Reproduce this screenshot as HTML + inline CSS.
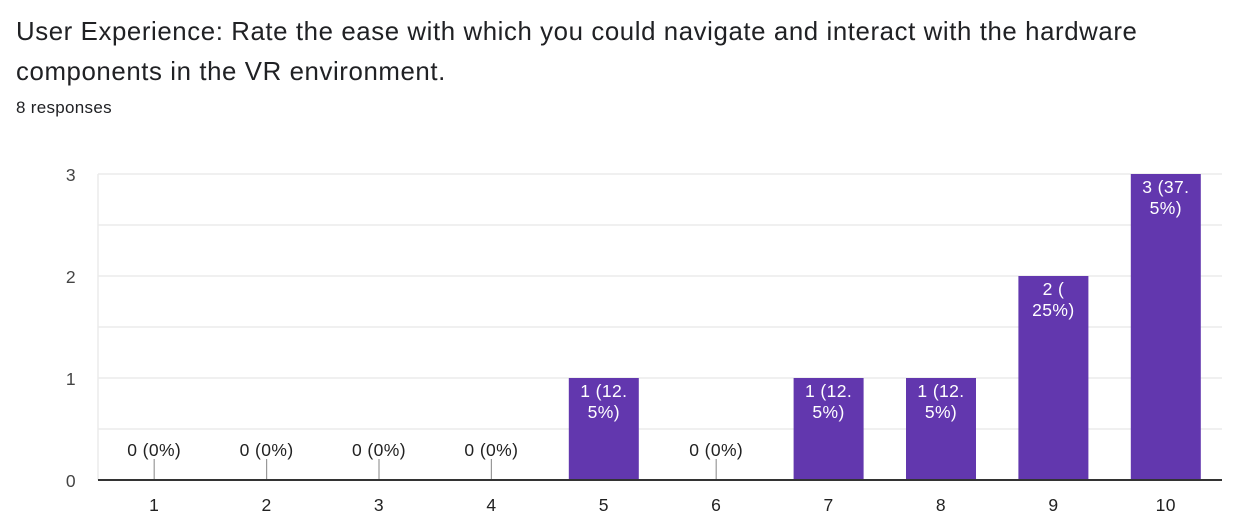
<!DOCTYPE html>
<html><head><meta charset="utf-8"><style>
body{margin:0;background:#fff;width:1250px;height:532px;overflow:hidden;font-family:"Liberation Sans",Arial,sans-serif}
#title{position:absolute;left:16px;top:12px;font-size:25.8px;letter-spacing:0.6px;line-height:40px;color:#202124;width:1230px}
#resp{position:absolute;left:16px;top:98px;font-size:17px;letter-spacing:0.3px;color:#202124}
svg{position:absolute;left:0;top:0;letter-spacing:0.4px}
</style></head><body>
<div id="title">User Experience: Rate the ease with which you could navigate and interact with the hardware<br>components in the VR environment.</div>
<div id="resp">8 responses</div>
<svg id="chart" width="1250" height="532"></svg>
<script>
const categories=["1","2","3","4","5","6","7","8","9","10"];
const counts=[0,0,0,0,1,0,1,1,2,3];
const labelsTop=["0 (0%)","0 (0%)","0 (0%)","0 (0%)","1 (12.","0 (0%)","1 (12.","1 (12.","2 (","3 (37."];
const labelsBottom=["","","","","5%)","","5%)","5%)","25%)","5%)"];
const yTicks=[0,1,2,3];
const L=98,R=1222,T=174,B=480,yMax=3;
const svg=document.getElementById('chart');const NS="http://www.w3.org/2000/svg";
function y(v){return B-(v/yMax)*(B-T);}
const bw=(R-L)/categories.length;
function x(i){return L+bw*(i+0.5);}
function el(t,a,txt){const e=document.createElementNS(NS,t);for(const k in a)e.setAttribute(k,a[k]);if(txt!==undefined)e.textContent=txt;svg.appendChild(e);return e;}
for(let v=0.5;v<=yMax;v+=0.5){const g=el('line',{x1:L,x2:R,y1:y(v),y2:y(v),stroke:'#ebebeb','stroke-width':1.5});

}
el('line',{x1:L,x2:L,y1:T,y2:B,stroke:'#ebebeb','stroke-width':1.5});
yTicks.forEach(v=>{const t=el('text',{x:76,y:y(v)+7,'text-anchor':'end','font-size':17.5,fill:'#444'},v);

});
categories.forEach((c,i)=>{
 const cx=x(i);
 if(counts[i]>0){
  const r=el('rect',{x:cx-35,y:y(counts[i]),width:70,height:B-y(counts[i]),fill:'#6237ae'});
  
  
  const t1=el('text',{x:cx,y:y(counts[i])+19,'text-anchor':'middle','font-size':17.5,fill:'#fff'},labelsTop[i]);
  
  
  const t2=el('text',{x:cx,y:y(counts[i])+40,'text-anchor':'middle','font-size':17.5,fill:'#fff'},labelsBottom[i]);
  
  
 } else {
  el('line',{x1:cx,x2:cx,y1:459,y2:B,stroke:'#999','stroke-width':1.2});
  const t=el('text',{x:cx,y:456,'text-anchor':'middle','font-size':17.5,fill:'#222'},labelsTop[i]);
  
  
 }
 const xl=el('text',{x:cx,y:511,'text-anchor':'middle','font-size':17.5,fill:'#222'},c);
 
 
});
const ax=el('line',{x1:L,x2:R,y1:B,y2:B,stroke:'#333','stroke-width':2});


</script>
</body></html>
